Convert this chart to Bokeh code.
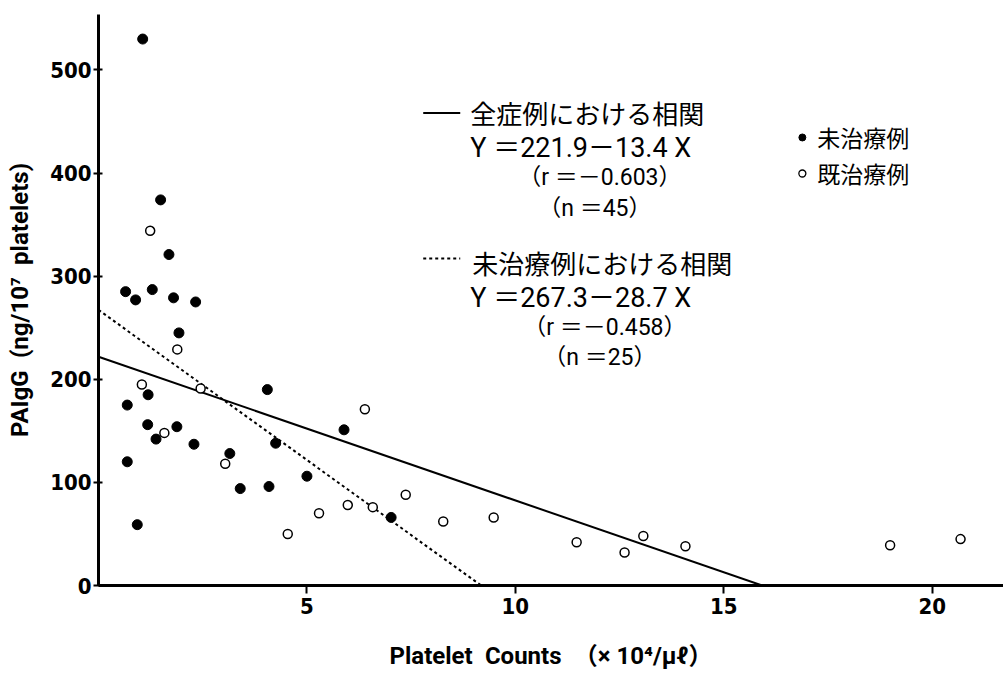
from bokeh.plotting import figure
from bokeh.models import Range1d, FixedTicker, Label
from bokeh.embed import file_html
from bokeh.resources import INLINE

# ---- data ----
untreated_x = [1.06, 1.49, 1.69, 0.65, 0.89, 1.29, 1.80, 2.33,
               1.93, 0.69, 1.19, 1.18, 1.38, 1.88, 2.29, 0.69, 0.93,
               3.15, 3.40, 4.05, 4.09, 4.25, 5.00, 5.89, 7.02]
untreated_y = [530, 374, 321, 285, 277, 287, 279, 275,
               245, 175, 185, 156, 142, 154, 137, 120, 59,
               128, 94, 190, 96, 138, 106, 151, 66]
treated_x = [1.24, 1.89, 1.04, 1.58, 2.45, 3.04, 4.54, 5.29, 5.98, 6.39,
             6.58, 7.37, 8.27, 9.48, 11.47, 12.62, 13.07, 14.08, 18.99, 20.68]
treated_y = [344, 229, 195, 148, 191, 118, 50, 70, 78, 171,
             76, 88, 62, 66, 42, 32, 48, 38, 39, 45]
all_line_x = [0, 15.92]
all_line_y = [221.9, 0]
untreated_line_x = [0, 9.18]
untreated_line_y = [267.3, 0]
x_ticks = [5, 10, 15, 20]
y_ticks = [0, 100, 200, 300, 400, 500]

NARROW = "'DejaVu Sans Condensed', Roboto, 'Noto Sans CJK JP', sans-serif"
CJK = "'Noto Sans CJK JP', sans-serif"
LAB = "Roboto, 'Noto Sans CJK JP', sans-serif"
SP = "\u2002"

W, H = 1003, 676
FL, FB, FT = 98, 91, 14
XMAX = 21.71
YMAX = 553.8

p = figure(width=W, height=H, output_backend="svg", toolbar_location=None,
           x_range=Range1d(0, XMAX), y_range=Range1d(0, YMAX),
           min_border_left=FL, min_border_right=0, min_border_top=FT,
           min_border_bottom=FB)
p.outline_line_color = None
p.grid.visible = False
p.background_fill_color = "white"

for ax in (p.xaxis, p.yaxis):
    ax.axis_line_width = 3
    ax.axis_line_color = "black"
    ax.major_tick_line_width = 2
    ax.minor_tick_line_color = None
    ax.major_label_text_font = NARROW
    ax.major_label_text_font_style = "bold"
    ax.major_label_text_font_size = "22px"
    ax.major_label_text_color = "black"
    ax.axis_label_text_font = LAB
    ax.axis_label_text_font_style = "bold"
    ax.axis_label_text_font_size = "24px"
    ax.axis_label_text_color = "black"

p.xaxis.ticker = FixedTicker(ticks=x_ticks)
p.yaxis.ticker = FixedTicker(ticks=y_ticks)
p.xaxis.major_tick_out = 8
p.xaxis.major_tick_in = 0
p.yaxis.major_tick_out = 5
p.yaxis.major_tick_in = 4
p.yaxis.major_label_standoff = 2
p.xaxis.major_label_standoff = 4
p.xaxis.axis_label = "Platelet" + SP + "Counts" + SP + "（× 10⁴/μℓ）"
p.yaxis.axis_label = "PAIgG" + SP + "(ng/10⁷" + SP + "platelets)"
p.xaxis.axis_label_standoff = 25
p.yaxis.axis_label_standoff = 13

# regression lines
p.line(all_line_x, all_line_y, line_color="black", line_width=2)
p.line(untreated_line_x, untreated_line_y, line_color="black", line_width=2,
       line_dash="3 3")

# points
p.scatter(untreated_x, untreated_y, marker="circle", size=10,
          fill_color="black", line_color="black")
p.scatter(treated_x, treated_y, marker="circle", size=9,
          fill_color="white", line_color="black", line_width=1.5)


def dx(px):
    return (px - 98.4) / 41.67


def dy(py):
    return (585 - py) / 1.031


# annotation block (positions in page pixels converted to data units)
p.segment(x0=[dx(423)], y0=[dy(112.5)], x1=[dx(460)], y1=[dy(112.5)],
          line_color="black", line_width=2)
p.segment(x0=[dx(423)], y0=[dy(258)], x1=[dx(460)], y1=[dy(258)],
          line_color="black", line_width=2, line_dash="3 3")

ann = [
    (470, 112, "全症例における相関", CJK, "26px"),
    (470, 148, "Y ＝221.9－13.4 X", LAB, "27px"),
    (518, 177, "（r ＝－0.603）", LAB, "23px"),
    (538, 208, "（n ＝45）", LAB, "23px"),
    (472, 262, "未治療例における相関", CJK, "26px"),
    (470, 298, "Y ＝267.3－28.7 X", LAB, "27px"),
    (523, 327, "（r ＝－0.458）", LAB, "23px"),
    (543, 357, "（n ＝25）", LAB, "23px"),
    (817, 137, "未治療例", CJK, "23px"),
    (817, 173, "既治療例", CJK, "23px"),
]
for (x, y, t, f, s) in ann:
    p.add_layout(Label(x=dx(x), y=dy(y), text=t, text_font=f,
                       text_font_size=s, text_baseline="middle",
                       text_align="left", text_color="black"))

p.scatter([dx(802)], [dy(137)], marker="circle", size=7,
          fill_color="black", line_color="black")
p.scatter([dx(802)], [dy(173)], marker="circle", size=7,
          fill_color="white", line_color="black", line_width=1.3)

open("out.html", "w").write(file_html(p, INLINE))
